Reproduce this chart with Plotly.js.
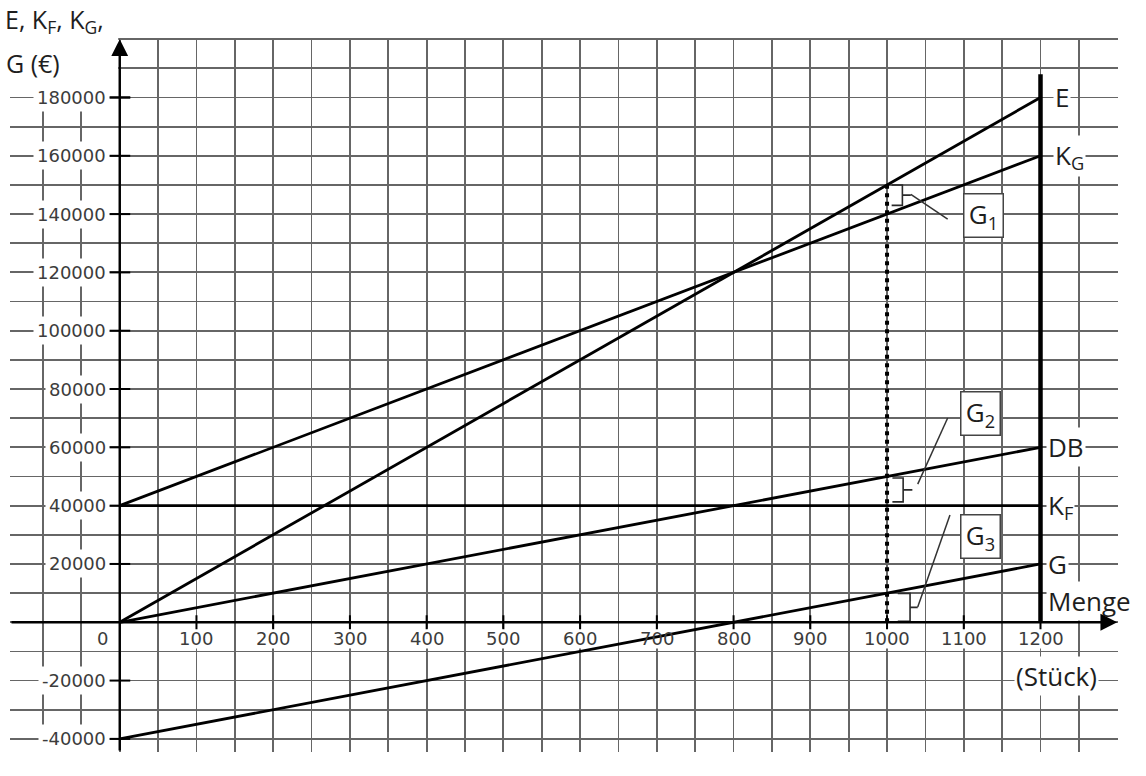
<!DOCTYPE html>
<html>
<head>
<meta charset="utf-8">
<script src="https://cdn.plot.ly/plotly-3.0.1.min.js"></script>
<style>html,body{margin:0;padding:0;background:#fff;}#chart{width:1146px;height:776px;}</style>
</head>
<body>
<div id="chart"></div>
<script>
// ---- data ----
const qty = [0, 1200];                 // Menge (Stück)
const revenueE = [0, 180000];          // E
const totalCostKG = [40000, 160000];   // K_G
const fixedCostKF = [40000, 40000];    // K_F
const contribDB = [0, 60000];          // DB
const profitG = [-40000, 20000];       // G
const curveNames = ['E', 'K<sub>G</sub>', 'DB', 'K<sub>F</sub>', 'G'];
const curveEnds = [180000, 160000, 60000, 40000, 20000];

const salesQty = 1000;                 // dotted line
const salesRevenue = 150000;
const capacityQty = 1200;              // thick vertical line
const capacityTop = 188000;

const gapNames = ['G<sub>1</sub>', 'G<sub>2</sub>', 'G<sub>3</sub>'];
const gapUpper = [150000, 49500, 9900];
const gapLower = [143000, 41300, 300];

const xTickVals = [100, 200, 300, 400, 500, 600, 700, 800, 900, 1000, 1100, 1200];
const xTickText = ['100', '200', '300', '400', '500', '600', '700', '800', '900', '1000', '1100', '1200'];
const yTickVals = [-40000, -20000, 20000, 40000, 60000, 80000, 100000, 120000, 140000, 160000, 180000];
const yTickText = ['-40000', '-20000', '20000', '40000', '60000', '80000', '100000', '120000', '140000', '160000', '180000'];

// ---- layout helpers (positions / styles) ----
const XR = [-143, 1301], YR = [-44500, 200400];
const lineStyle = {color: '#000', width: 2.8};
const thinStyle = {color: '#2a2a2a', width: 1.6};
const tickFont = {family: 'DejaVu Sans', size: 18, color: '#3c3c3c'};
const labFont = {family: 'Open Sans', size: 26, color: '#1e1e1e'};
const titleFont = {family: 'Open Sans', size: 25, color: '#1e1e1e'};

const bracketGeom = [
  {x0: 1006, x1: 1020, tip: 1031, lead: [[1031, 146800], [1079, 138300]], box: [1126, 139500]},
  {x0: 1007, x1: 1021, tip: 1033, lead: [[1040, 47400], [1079, 70060]], box: [1122, 71500]},
  {x0: 1014, x1: 1030, tip: 1040, lead: [[1040, 5240], [1082, 36800]], box: [1122, 29500]}
];

const traces = [];
const series = [revenueE, totalCostKG, contribDB, fixedCostKF, profitG];
series.forEach(function (s) {
  traces.push({x: qty, y: s, mode: 'lines', line: lineStyle, hoverinfo: 'skip'});
});
// dotted line at sales quantity
traces.push({x: [salesQty, salesQty], y: [0, salesRevenue], mode: 'lines',
  line: {color: '#000', width: 4, dash: '4px,4.5px'}, hoverinfo: 'skip'});
// capacity line
traces.push({x: [capacityQty, capacityQty], y: [0, capacityTop], mode: 'lines',
  line: {color: '#000', width: 4.5}, hoverinfo: 'skip'});
// brackets
gapUpper.forEach(function (u, i) {
  const g = bracketGeom[i];
  const lo = gapLower[i];
  const mid = (u + lo) / 2;
  traces.push({x: [g.x0, g.x1, g.x1, g.tip, g.x1, g.x1, g.x0], y: [u, u, mid, mid, mid, lo, lo],
    mode: 'lines', line: thinStyle, hoverinfo: 'skip'});
  traces.push({x: [g.lead[0][0], g.lead[1][0]], y: [g.lead[0][1], g.lead[1][1]],
    mode: 'lines', line: {color: '#333', width: 1.5}, hoverinfo: 'skip'});
});
// tick marks on axes
traces.push({x: xTickVals, y: xTickVals.map(function () { return 0; }), mode: 'markers',
  marker: {symbol: 'line-ns', size: 10, line: {color: '#000', width: 2}}, hoverinfo: 'skip'});
traces.push({x: yTickVals.map(function () { return 0; }).concat([0]), y: yTickVals.concat([180000]), mode: 'markers',
  marker: {symbol: 'line-ew', size: 15, line: {color: '#000', width: 2}}, hoverinfo: 'skip'});

const annotations = [];
const shapes = [
  // white patch above the top y label on the left
  {type: 'rect', xref: 'x', yref: 'y', x0: XR[0], x1: -2, y0: 184500, y1: YR[1],
   fillcolor: '#fff', line: {width: 0}, layer: 'between'}
];
// y tick labels
yTickVals.forEach(function (v, i) {
  annotations.push({x: -13, y: v, xref: 'x', yref: 'y', text: yTickText[i], showarrow: false,
    xanchor: 'right', yanchor: 'middle', font: tickFont, bgcolor: '#fff', borderpad: 3});
});
// x tick labels (white patch behind them sits below the curves)
xTickVals.forEach(function (v, i) {
  const half = xTickText[i].length * 8.2;
  shapes.push({type: 'rect', xref: 'x', yref: 'y', x0: v - half, x1: v + half, y0: -9000, y1: -2200,
    fillcolor: '#fff', line: {width: 0}, layer: 'between'});
  annotations.push({x: v, y: -5500, xref: 'x', yref: 'y', text: xTickText[i], showarrow: false,
    xanchor: 'center', yanchor: 'middle', font: tickFont});
});
annotations.push({x: -22, y: -5500, xref: 'x', yref: 'y', text: '0', showarrow: false,
  xanchor: 'center', yanchor: 'middle', font: tickFont, bgcolor: '#fff', borderpad: 1});
// curve labels at right
const curveLabelX = [1216, 1216, 1207, 1207, 1207];
curveNames.forEach(function (n, i) {
  annotations.push({x: curveLabelX[i], y: curveEnds[i], xref: 'x', yref: 'y', text: n, showarrow: false,
    xanchor: 'left', yanchor: 'middle', font: labFont, bgcolor: '#fff', borderpad: 1});
});
annotations.push({x: 1207, y: 7300, xref: 'x', yref: 'y', text: 'Menge', showarrow: false,
  xanchor: 'left', yanchor: 'middle', font: labFont, bgcolor: '#fff', borderpad: 1});
annotations.push({x: 1165, y: -18600, xref: 'x', yref: 'y', text: '(Stück)', showarrow: false,
  xanchor: 'left', yanchor: 'middle', font: labFont, bgcolor: '#fff', borderpad: 1});
// gap boxes
gapNames.forEach(function (n, i) {
  const b = bracketGeom[i].box;
  annotations.push({x: b[0], y: b[1], xref: 'x', yref: 'y', text: n, showarrow: false,
    xanchor: 'center', yanchor: 'middle', font: labFont, bgcolor: '#fff',
    bordercolor: '#444', borderwidth: 1.5, borderpad: 3, width: 32, height: 36});
});
// axis title (top left)
annotations.push({x: 0, y: 1, xref: 'paper', yref: 'paper', xshift: -6, yshift: 18,
  text: 'E, K<sub>F</sub>, K<sub>G</sub>,', showarrow: false, xanchor: 'left', yanchor: 'middle',
  font: titleFont, borderpad: 0});
annotations.push({x: 0, y: 1, xref: 'paper', yref: 'paper', xshift: -6, yshift: -25,
  text: 'G (€)', showarrow: false, xanchor: 'left', yanchor: 'middle',
  font: titleFont, bgcolor: '#fff'});
// axis arrows
annotations.push({x: 1300, y: 0, ax: XR[0], ay: 0, xref: 'x', yref: 'y', axref: 'x', ayref: 'y',
  text: '', showarrow: true, arrowhead: 2, arrowsize: 1.4, arrowwidth: 2.4, arrowcolor: '#000', standoff: 0});
annotations.push({x: 0, y: 200000, ax: 0, ay: YR[0], xref: 'x', yref: 'y', axref: 'x', ayref: 'y',
  text: '', showarrow: true, arrowhead: 2, arrowsize: 1.4, arrowwidth: 2.4, arrowcolor: '#000', standoff: 0});

const layout = {
  width: 1146, height: 776,
  margin: {l: 10, r: 28, t: 38, b: 24, pad: 0},
  paper_bgcolor: '#fff', plot_bgcolor: '#fff',
  showlegend: false,
  xaxis: {range: XR, showgrid: true, dtick: 50, tick0: 0, gridcolor: '#666666', gridwidth: 1.8,
    zeroline: false, showticklabels: false, ticks: '', showline: false, fixedrange: true},
  yaxis: {range: YR, showgrid: true, dtick: 10000, tick0: 0, gridcolor: '#666666', gridwidth: 1.8,
    zeroline: false, showticklabels: false, ticks: '', showline: false, fixedrange: true},
  annotations: annotations,
  shapes: shapes
};

Plotly.newPlot('chart', traces, layout, {displayModeBar: false, staticPlot: true});
</script>
</body>
</html>
